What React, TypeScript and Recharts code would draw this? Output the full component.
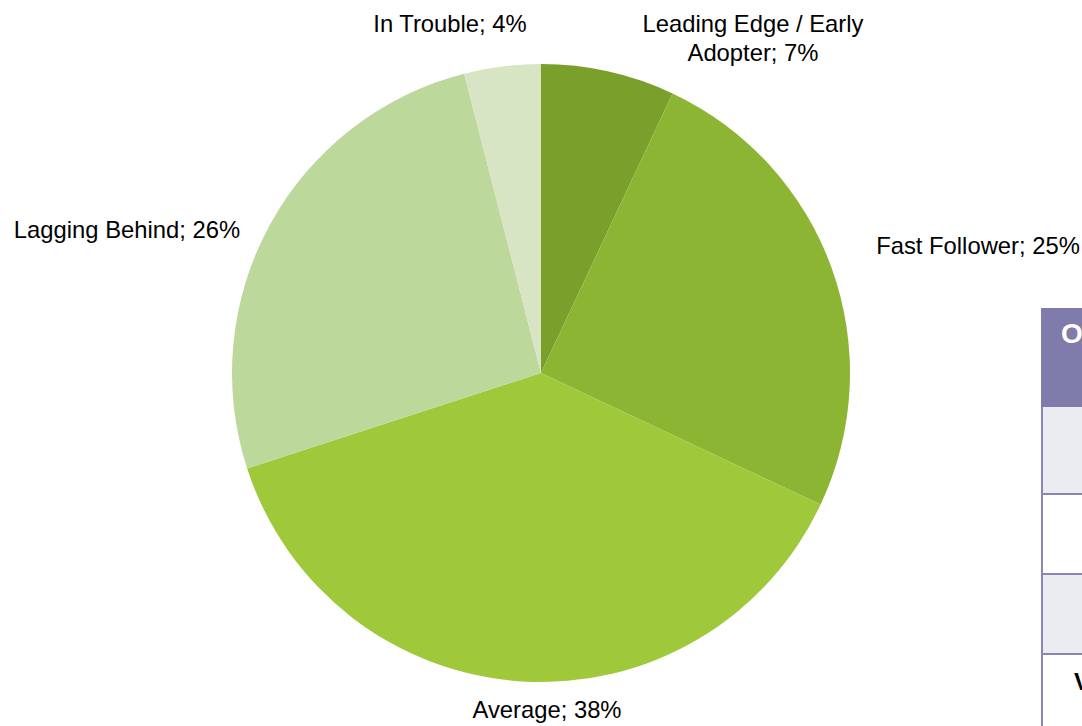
import React from "react";
import { PieChart, Pie, Cell } from "recharts";

const categories = [
  "Leading Edge / Early Adopter",
  "Fast Follower",
  "Average",
  "Lagging Behind",
  "In Trouble",
];
const shares = [7, 25, 38, 26, 4];
const colors = ["#7b9f2b", "#8db534", "#9fc83b", "#bdd89b", "#d7e5c4"];
// label text lines per slice
const labelLines = [
  ["Leading Edge / Early", "Adopter; 7%"],
  ["Fast Follower; 25%"],
  ["Average; 38%"],
  ["Lagging Behind; 26%"],
  ["In Trouble; 4%"],
];
// label placement (offset of first baseline from pie centre)
const labelOffsets = [
  [212, -341],
  [437, -119],
  [6, 345],
  [-414, -135],
  [-91, -341],
];

const data = categories.map((name, i) => ({ name, value: shares[i] }));

const FONT = "'Liberation Sans', Arial, sans-serif";

const renderLabel = (props: any) => {
  const { cx, cy, index } = props;
  const [dx, dy] = labelOffsets[index];
  const lines = labelLines[index];
  return (
    <text
      key={`lbl-${index}`}
      x={cx + dx}
      y={cy + dy}
      textAnchor="middle"
      fill="#000"
      fontSize={23.8}
      fontFamily={FONT}
    >
      {lines.map((l, j) => (
        <tspan key={j} x={cx + dx} dy={j === 0 ? 0 : 29}>
          {l}
        </tspan>
      ))}
    </text>
  );
};

const border = "#8a86b8";

export default function App() {
  return (
    <div style={{ position: "absolute", left: 0, top: 0, width: 1082, height: 726, overflow: "hidden", background: "#fff" }}>
      <PieChart width={1082} height={726} margin={{ top: 0, right: 0, bottom: 0, left: 0 }}>
        <Pie
          data={data}
          dataKey="value"
          nameKey="name"
          cx={541}
          cy={373}
          outerRadius={309}
          startAngle={90}
          endAngle={-270}
          stroke="none"
          labelLine={false}
          label={renderLabel}
          isAnimationActive={false}
        >
          {data.map((d, i) => (
            <Cell key={d.name} fill={colors[i]} />
          ))}
        </Pie>
      </PieChart>
      {/* cropped table at the right edge */}
      <div style={{ position: "absolute", left: 1041, top: 308, width: 60, height: 99, background: "#7f7bab" }}>
        <span style={{ position: "absolute", left: 20, top: 10, color: "#fff", fontWeight: "bold", fontSize: 28, fontFamily: FONT }}>O</span>
      </div>
      <div style={{ position: "absolute", left: 1041, top: 407, width: 2, height: 319, background: border }} />
      <div style={{ position: "absolute", left: 1043, top: 407, width: 60, height: 86, background: "#ebebf2" }} />
      <div style={{ position: "absolute", left: 1043, top: 493, width: 60, height: 2, background: border }} />
      <div style={{ position: "absolute", left: 1043, top: 573, width: 60, height: 2, background: border }} />
      <div style={{ position: "absolute", left: 1043, top: 575, width: 60, height: 78, background: "#ebebf2" }} />
      <div style={{ position: "absolute", left: 1043, top: 653, width: 60, height: 2, background: border }} />
      <span style={{ position: "absolute", left: 1074, top: 668, color: "#000", fontWeight: "bold", fontSize: 24, fontFamily: FONT }}>V</span>
    </div>
  );
}
